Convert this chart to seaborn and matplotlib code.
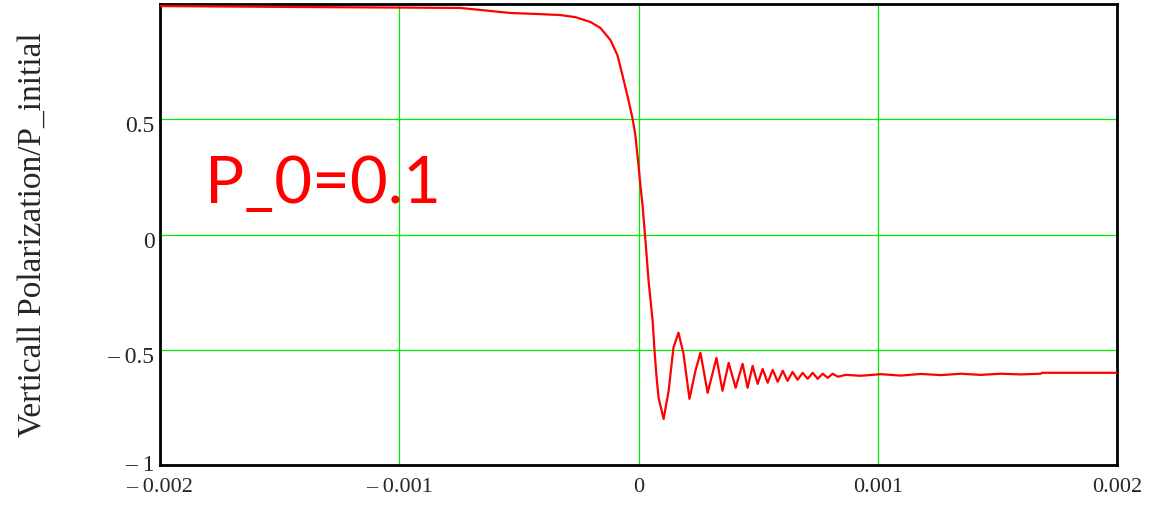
import numpy as np
import pandas as pd
import matplotlib
matplotlib.use("Agg")
import matplotlib.pyplot as plt
import matplotlib.transforms as mtransforms
import seaborn as sns

# Curve (time in units of 1e-3)
time_ms = [-2.000, -1.414, -0.745, -0.536, -0.431, -0.326, -0.264, -0.201, -0.159,
           -0.117, -0.088, -0.067, -0.042, -0.025, -0.013, 0.000, 0.008, 0.017,
           0.029, 0.042, 0.059, 0.067, 0.075, 0.084, 0.105, 0.126, 0.146, 0.167,
           0.188, 0.213, 0.238, 0.259, 0.289, 0.326, 0.351, 0.377, 0.406, 0.435,
           0.456, 0.477, 0.498, 0.519, 0.540, 0.561, 0.582, 0.603, 0.623, 0.644,
           0.665, 0.686, 0.707, 0.728, 0.749, 0.770, 0.791, 0.812, 0.833, 0.866,
           0.929, 1.013, 1.096, 1.180, 1.264, 1.347, 1.431, 1.515, 1.598, 1.682,
           1.686, 2.000]
polarization = [0.991, 0.987, 0.983, 0.961, 0.957, 0.952, 0.943, 0.922, 0.896,
                0.843, 0.778, 0.691, 0.583, 0.504, 0.430, 0.300, 0.213, 0.126,
                -0.026, -0.200, -0.374, -0.504, -0.613, -0.709, -0.800, -0.678, -0.491, -0.426,
                -0.517, -0.713, -0.591, -0.513, -0.687, -0.535, -0.678, -0.557, -0.665, -0.561,
                -0.665, -0.570, -0.648, -0.583, -0.643, -0.587, -0.639, -0.591, -0.635, -0.596,
                -0.630, -0.600, -0.626, -0.600, -0.626, -0.604, -0.622, -0.604, -0.617, -0.609,
                -0.613, -0.606, -0.612, -0.605, -0.610, -0.604, -0.609, -0.604, -0.607, -0.604,
                -0.600, -0.600]

x_ticks = [-0.002, -0.001, 0.0, 0.001, 0.002]
x_labels = ["\u2013 0.002", "\u2013 0.001", "0", "0.001", "0.002"]
y_ticks = [-1.0, -0.5, 0.0, 0.5]
y_labels = ["\u2013 1", "\u2013 0.5", "0", "0.5"]

df = pd.DataFrame({"t": np.array(time_ms) * 1e-3, "p": polarization})

sns.set_style("white")
plt.rcParams["font.family"] = ["Liberation Serif", "DejaVu Serif"]

fig = plt.figure(figsize=(11.53, 5.05), dpi=100)
ax = fig.add_axes([160 / 1153, 1 - 465 / 505, 957 / 1153, 461 / 505])

sns.lineplot(data=df, x="t", y="p", color="#ff0000", linewidth=1.6,
             estimator=None, sort=False, ax=ax, zorder=3)

ax.set_xlim(-0.002, 0.002)
ax.set_ylim(-1, 1)
ax.set_xticks(x_ticks)
ax.set_xticklabels(x_labels, fontsize=16)
ax.set_yticks(y_ticks)
ax.set_yticklabels(y_labels, fontsize=17)
ax.tick_params(axis="both", length=0)
ax.tick_params(axis="x", pad=9)
ax.tick_params(axis="y", pad=4)

# nudge y tick labels slightly below their gridlines, like the original
# (the bottom one stays put so it clears the x labels)
offset = mtransforms.ScaledTranslation(0, -5 / 100, fig.dpi_scale_trans)
for lab in ax.get_yticklabels()[1:]:
    lab.set_transform(lab.get_transform() + offset)
low = mtransforms.ScaledTranslation(0, 2 / 100, fig.dpi_scale_trans)
first = ax.get_yticklabels()[0]
first.set_transform(first.get_transform() + low)

ax.grid(True, color="#00ee00", linewidth=0.9)
ax.set_axisbelow(True)
for s in ax.spines.values():
    s.set_color("black")
    s.set_linewidth(2.0)

ax.set_xlabel("")
ax.set_ylabel("Verticall Polarization/P_initial", fontsize=24)
ax.yaxis.set_label_coords(-0.117, 0.5)

ax.text(0.047, 0.568, "P_0=0.1", transform=ax.transAxes, color="#ff0000",
        fontsize=47, family=["Lato", "DejaVu Sans"], va="baseline", ha="left")

fig.savefig("out.png", dpi=100)
